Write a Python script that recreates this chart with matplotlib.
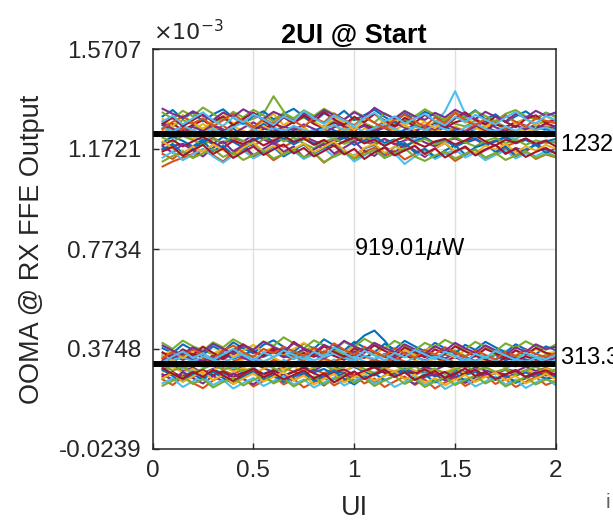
import numpy as np
import matplotlib
matplotlib.use("Agg")
import matplotlib.pyplot as plt

plt.rcParams['font.family'] = ['Liberation Sans', 'DejaVu Sans']
plt.rcParams['mathtext.fontset'] = 'dejavusans'

# sample instants (UI) of every trace
ui_pos = np.arange(1, 41) / 20.0

# mean levels (uW)
level_hi = 1232.35
level_lo = 313.34
ooma = 919.01

# per-trace deviation from the level, uW
up_dev = [
    [35, 12, 28, -5, 18, 30, 8, 22, -10, 15, 40, 20, 5, 25, -8, 12, 30, 14, -2, 20, 35, 10, 24, 0, 16, 38, 18, 6, 28, 12, -4, 22, 30, 10, 26, 4, 18, 32, 14, 20],
    [-130, -110, -95, -80, -30, -15, -38, -22, -45, -28, -10, -35, -52, -30, -18, -40, -25, -48, -32, -12, -30, -45, -20, -38, -55, -28, -15, -36, -24, -46, -30, -18, -40, -26, -50, -34, -20, -42, -28, -35],
    [5, 25, -10, 15, 40, 10, -5, 30, 12, -15, 20, 45, 15, 0, 28, -8, 18, 35, 5, -12, 22, 8, 38, 14, -6, 26, 48, 20, 2, 30, 10, -10, 24, 42, 16, -2, 30, 12, 36, 8],
    [-60, -48, -40, -52, -35, -20, -38, -15, -30, -5, -22, -40, -18, -32, -10, -28, -45, -25, -8, -30, -16, -38, -20, -42, -26, -12, -34, -50, -28, -18, -36, -22, -44, -30, -14, -32, -20, -40, -26, -34],
    [50, 30, 55, 38, 20, 45, 62, 35, 48, 60, 80, 150, 90, 44, 66, 40, 28, 52, 36, 60, 42, 26, 50, 34, 56, 38, 22, 46, 64, 40, 30, 54, 36, 48, 28, 44, 60, 38, 50, 42],
    [0, -18, 10, -8, -30, -5, 12, -15, 2, -25, -8, 15, -12, -28, 0, 18, -6, -20, 5, -14, 8, -22, -2, 20, -10, -26, 4, 40, 90, 170, 80, 6, -12, 14, -8, -20, 2, -10, 12, -6],
    [20, 40, 15, 35, 55, 28, 10, 38, 60, 30, 18, 42, 25, 48, 70, 40, 22, 45, 30, 12, 36, 20, 44, 28, 50, 32, 16, 40, 24, 46, 58, 30, 14, 38, 26, 48, 32, 20, 42, 28],
    [-35, -10, -28, -50, -22, -40, -12, -32, -55, -25, -8, -30, -18, -42, -20, -38, -60, -34, -16, -44, -26, -10, -36, -22, -48, -30, -14, -40, -24, -52, -32, -18, -44, -28, -12, -38, -24, -46, -30, -20],
    [10, -5, 22, 5, -12, 15, 32, 8, -8, 20, 2, -15, 12, 28, 6, -10, 18, 0, 25, 10, -6, 16, 30, 4, -12, 14, 26, 8, -4, 22, 12, 40, 18, 2, 24, 10, -8, 16, 28, 12],
    [-5, 18, -2, -20, 8, 24, 0, -16, 12, -8, 30, 10, -12, 6, -24, -4, 14, -10, 20, 2, -18, 10, -6, 16, 36, 12, -8, 18, 4, -14, 8, 26, 2, -10, 14, -4, 20, 6, -12, 4],
    [42, 20, 5, 28, 12, 35, 18, 0, 24, 46, 22, 8, 30, 14, 38, 20, 4, 26, 44, 18, 32, 10, 28, 48, 24, 6, 34, 16, 40, 22, 8, 30, 50, 26, 12, 34, 18, 38, 22, 30],
    [-15, -32, -8, -25, -45, -20, -35, -10, -28, -48, -22, -5, -30, -15, -38, -58, -32, -18, -40, -24, -8, -30, -46, -26, -14, -36, -20, -42, -30, -12, -34, -50, -28, -16, -38, -22, -44, -26, -36, -30],
    [25, 8, 32, 15, 0, 20, 5, 28, 44, 18, 2, 26, 10, 32, 16, -4, 22, 36, 14, 28, 6, 24, 40, 20, 4, 30, 14, 36, 18, 0, 26, 42, 20, 8, 30, 12, 34, 16, 26, 10],
    [-45, -25, -50, -30, -12, -35, -55, -28, -40, -20, -46, -26, -8, -32, -18, -44, -24, -50, -30, -14, -38, -22, -48, -28, -10, -34, -52, -30, -20, -42, -26, -6, -30, -46, -24, -36, -18, -40, -28, -50],
    [70, 95, 60, 85, 50, 78, 98, 65, 40, 72, 90, 58, 80, 100, 70, 48, 82, 62, 92, 55, 75, 96, 68, 45, 80, 60, 88, 72, 50, 85, 66, 94, 58, 78, 46, 70, 90, 62, 84, 70],
    [-80, -100, -70, -95, -60, -85, -110, -75, -55, -90, -70, -105, -80, -60, -95, -75, -115, -85, -65, -98, -72, -55, -88, -68, -102, -80, -60, -92, -74, -108, -84, -62, -96, -78, -58, -90, -70, -100, -82, -94],
    [60, 30, 75, 45, 20, 55, 85, 40, 65, 25, 50, 80, 35, 60, 90, 50, 25, 70, 45, 15, 55, 80, 40, 62, 30, 72, 48, 22, 58, 84, 44, 66, 28, 54, 76, 40, 60, 32, 70, 50],
    [-50, -75, -40, -65, -90, -55, -30, -70, -45, -85, -60, -35, -72, -50, -95, -62, -40, -78, -55, -30, -68, -88, -52, -75, -42, -66, -92, -58, -36, -74, -50, -82, -62, -44, -80, -56, -70, -40, -64, -76],
    [85, 60, 92, 70, 105, 80, 55, 88, 66, 96, 74, 50, 84, 62, 94, 72, 100, 78, 56, 90, 68, 45, 82, 60, 92, 70, 98, 76, 54, 86, 64, 90, 72, 50, 80, 95, 70, 58, 85, 66],
    [-95, -70, -105, -82, -60, -90, -115, -85, -65, -98, -76, -55, -88, -68, -100, -80, -58, -92, -72, -110, -86, -64, -96, -78, -120, -90, -70, -100, -80, -62, -94, -74, -105, -84, -66, -98, -78, -88, -70, -92],
    [40, 65, 30, 55, 78, 48, 70, 35, 60, 85, 52, 28, 66, 42, 75, 50, 88, 58, 36, 68, 46, 80, 54, 32, 64, 44, 76, 50, 30, 62, 86, 56, 38, 70, 48, 26, 60, 74, 44, 58],
    [-62, -40, -78, -55, -30, -68, -48, -85, -60, -38, -72, -50, -90, -64, -42, -76, -56, -34, -70, -88, -58, -44, -80, -52, -36, -74, -60, -92, -66, -46, -82, -54, -40, -72, -50, -86, -62, -44, -76, -58],
    [20, 48, 70, 42, 62, 30, 55, 80, 50, 25, 60, 40, 72, 52, 28, 64, 46, 82, 56, 34, 68, 44, 22, 58, 76, 50, 30, 66, 42, 84, 54, 36, 60, 40, 74, 48, 28, 62, 52, 44],
    [-30, -58, -80, -50, -72, -42, -65, -88, -55, -35, -70, -48, -82, -60, -38, -74, -52, -30, -66, -90, -56, -40, -76, -50, -68, -44, -84, -58, -36, -70, -54, -80, -46, -62, -40, -74, -50, -66, -44, -60],
    [100, 80, 65, 90, 72, 55, 85, 68, 98, 76, 60, 88, 70, 52, 82, 64, 95, 74, 58, 86, 66, 104, 80, 62, 90, 70, 56, 84, 66, 96, 76, 58, 88, 68, 50, 80, 64, 92, 72, 86],
    [-110, -88, -70, -96, -78, -60, -92, -74, -104, -84, -66, -98, -80, -62, -94, -76, -112, -90, -72, -100, -82, -64, -96, -78, -58, -90, -108, -86, -70, -98, -80, -62, -94, -76, -104, -86, -68, -96, -80, -90],
    [50, 72, 38, 62, 86, 54, 32, 66, 46, 78, 58, 36, 70, 50, 92, 62, 40, 74, 54, 30, 64, 84, 50, 70, 42, 60, 80, 52, 34, 68, 48, 76, 56, 38, 66, 88, 58, 42, 72, 54],
    [-70, -52, -88, -64, -44, -80, -58, -96, -72, -50, -84, -62, -42, -78, -56, -90, -68, -46, -82, -60, -100, -74, -54, -86, -66, -48, -80, -58, -94, -70, -52, -86, -64, -44, -78, -60, -92, -72, -56, -80],
]

dn_dev = [
    [30, 10, 35, 18, 5, 28, 45, 22, 38, 55, 30, 48, 62, 40, 25, 50, 35, 58, 42, 80, 115, 135, 95, 45, 30, 50, 36, 20, 40, 28, 12, 34, 22, 38, 16, 30, 20, 8, 26, 14],
    [-40, -60, -35, -52, -30, -45, -25, -40, -18, -35, -50, -28, -12, -30, -42, -20, -36, -15, -32, -48, -25, -10, -30, -44, -22, -38, -18, -34, -50, -28, -40, -22, -46, -30, -52, -36, -24, -42, -30, -45],
    [0, 18, -5, 12, -12, 8, 25, 5, 20, 35, 12, 28, 6, 30, 15, 40, 18, 5, 26, 10, 32, 14, 0, 22, 38, 16, 4, 24, 10, -6, 18, 2, 20, -8, 10, -4, 14, 0, -10, 6],
    [-20, -5, -28, -12, -35, -18, -5, -24, -10, 5, -15, -30, -8, 8, -12, -25, -2, -18, 4, -10, -28, -6, -20, 2, -14, -32, -10, -22, -4, -16, -30, -12, -24, -36, -18, -28, -10, -26, -14, -30],
    [45, 25, 50, 32, 55, 40, 60, 38, 70, 50, 35, 62, 45, 30, 55, 68, 42, 58, 36, 50, 64, 40, 28, 48, 60, 36, 52, 30, 44, 56, 34, 48, 26, 40, 52, 30, 42, 24, 38, 32],
    [-10, 8, -18, 0, 15, -8, 10, -15, 5, 22, 0, -12, 18, 4, 25, 8, -6, 20, 2, 30, 12, -4, 16, 28, 6, -10, 14, 0, 20, 4, -12, 8, -6, 12, -14, 2, -8, 10, -4, 0],
    [15, 35, 20, 42, 28, 10, 32, 50, 30, 15, 40, 58, 35, 22, 46, 30, 52, 34, 18, 40, 26, 48, 32, 14, 36, 22, 44, 28, 12, 30, 18, 36, 20, 6, 26, 14, 32, 18, 24, 10],
    [-55, -35, -48, -28, -42, -20, -36, -50, -30, -15, -38, -22, -45, -28, -10, -32, -18, -40, -26, -8, -30, -44, -24, -36, -16, -40, -28, -48, -32, -20, -42, -30, -50, -34, -22, -44, -32, -52, -38, -46],
    [5, -12, 10, -5, 22, 2, -15, 12, 28, 8, -6, 18, 0, 32, 14, -2, 24, 8, 36, 16, 2, 20, 6, 26, 12, -4, 16, 2, 22, 8, -10, 12, -2, 18, 4, -8, 10, -4, 14, 2],
    [-28, -10, -32, -18, -40, -22, -6, -28, -14, -34, -18, 2, -20, -8, -30, -12, 5, -16, -26, -6, -22, -38, -14, -28, -8, -24, -42, -20, -32, -14, -36, -24, -10, -30, -18, -38, -22, -34, -16, -26],
    [22, 40, 18, 30, 12, 36, 20, 44, 26, 12, 34, 50, 28, 40, 60, 36, 24, 46, 30, 52, 34, 20, 42, 28, 48, 30, 16, 38, 24, 42, 28, 14, 34, 20, 38, 24, 10, 30, 18, 26],
    [-5, -25, -10, -32, -18, 0, -22, -8, -28, -12, 6, -16, -30, -6, 10, -14, -2, -24, -10, 4, -18, -34, -12, -4, -22, -8, -28, -16, -38, -20, -6, -26, -12, -30, -18, -40, -24, -10, -28, -20],
    [38, 20, 28, 12, 32, 18, 8, 26, 42, 24, 10, 30, 46, 22, 36, 16, 30, 44, 26, 14, 34, 22, 40, 18, 6, 28, 14, 32, 20, 4, 24, 12, 30, 16, 2, 20, 10, 26, 8, 16],
    [-48, -30, -55, -38, -22, -44, -28, -50, -34, -18, -40, -24, -46, -30, -14, -36, -52, -32, -20, -42, -26, -12, -34, -48, -28, -38, -20, -44, -30, -54, -36, -22, -46, -32, -40, -26, -50, -34, -44, -38],
    [65, 45, 80, 58, 38, 72, 52, 88, 64, 44, 78, 96, 70, 50, 84, 62, 100, 76, 56, 90, 68, 48, 82, 60, 94, 72, 52, 86, 64, 44, 78, 58, 90, 68, 48, 80, 60, 40, 72, 56],
    [-60, -82, -50, -74, -95, -64, -44, -78, -56, -88, -66, -46, -80, -58, -92, -70, -50, -84, -62, -42, -76, -56, -90, -68, -48, -82, -60, -96, -72, -52, -86, -64, -44, -78, -58, -90, -70, -50, -82, -66],
    [35, 58, 25, 50, 72, 42, 64, 30, 55, 78, 48, 70, 40, 62, 86, 52, 32, 66, 46, 74, 56, 36, 68, 44, 60, 34, 54, 76, 46, 28, 58, 40, 66, 48, 30, 56, 38, 62, 44, 50],
    [-40, -62, -30, -55, -76, -46, -68, -36, -58, -80, -50, -72, -42, -64, -38, -60, -84, -54, -34, -66, -48, -70, -44, -26, -58, -78, -50, -40, -64, -46, -74, -52, -36, -62, -44, -70, -56, -38, -60, -48],
    [85, 62, 95, 72, 55, 88, 68, 100, 78, 60, 92, 74, 108, 84, 64, 96, 76, 58, 90, 70, 102, 80, 62, 94, 74, 56, 86, 68, 98, 78, 60, 90, 70, 52, 84, 66, 92, 72, 58, 80],
    [-75, -55, -90, -68, -48, -82, -62, -96, -74, -54, -86, -66, -46, -80, -60, -92, -72, -52, -84, -64, -44, -78, -58, -90, -70, -50, -82, -62, -98, -76, -56, -88, -68, -48, -80, -60, -94, -72, -54, -84],
    [48, 26, 60, 38, 70, 46, 24, 58, 80, 52, 34, 66, 44, 90, 62, 40, 72, 50, 30, 64, 46, 76, 54, 36, 68, 48, 28, 60, 42, 72, 52, 32, 62, 44, 26, 56, 38, 66, 46, 34],
    [-22, -46, -68, -40, -60, -30, -54, -76, -48, -28, -62, -42, -70, -50, -32, -66, -44, -24, -58, -80, -52, -36, -64, -46, -26, -60, -40, -72, -54, -34, -66, -48, -28, -62, -42, -74, -50, -32, -58, -44],
    [25, 50, 35, 60, 42, 22, 55, 75, 48, 30, 62, 44, 70, 52, 34, 66, 46, 84, 58, 38, 70, 50, 32, 64, 44, 26, 58, 40, 68, 48, 30, 56, 38, 20, 50, 34, 60, 42, 28, 46],
    [-55, -35, -70, -48, -28, -62, -42, -78, -56, -36, -68, -50, -30, -64, -44, -80, -58, -38, -72, -52, -34, -66, -46, -26, -60, -40, -74, -54, -84, -62, -42, -70, -50, -32, -64, -46, -76, -56, -38, -60],
    [75, 55, 40, 68, 50, 82, 62, 44, 76, 58, 90, 70, 52, 84, 64, 46, 78, 60, 94, 72, 54, 86, 66, 48, 80, 60, 42, 72, 54, 86, 64, 46, 76, 56, 38, 68, 50, 80, 62, 70],
    [-85, -65, -50, -78, -58, -92, -70, -52, -84, -62, -44, -76, -56, -88, -66, -48, -80, -60, -42, -74, -54, -86, -64, -46, -78, -58, -90, -68, -50, -82, -62, -44, -76, -56, -88, -68, -50, -80, -60, -72],
    [10, 32, 52, 26, 44, 18, 40, 62, 36, 14, 48, 30, 56, 38, 20, 50, 32, 68, 44, 24, 54, 36, 16, 46, 28, 58, 40, 22, 50, 34, 12, 42, 26, 54, 36, 18, 46, 30, 20, 38],
    [-15, -38, -58, -30, -50, -22, -44, -66, -40, -18, -52, -34, -60, -42, -24, -56, -36, -72, -48, -28, -58, -40, -20, -50, -32, -62, -44, -26, -54, -38, -16, -46, -30, -58, -40, -22, -50, -34, -24, -42],
]

ytick_vals = [-0.0239, 0.3748, 0.7734, 1.1721, 1.5707]   # x1e-3
xtick_vals = [0, 0.5, 1, 1.5, 2]

matlab_colors = ['#0072BD', '#D95319', '#EDB120', '#7E2F8E', '#77AC30', '#4DBEEE', '#A2142F']
axcol = '#262626'

fig = plt.figure(figsize=(6.13, 5.23), dpi=100)
ax = fig.add_axes([0.2488, 0.1415, 0.6582, 0.7648])

k = 0
for rows, lvl in ((up_dev, level_hi), (dn_dev, level_lo)):
    for r in rows:
        ax.plot(ui_pos, (lvl + np.array(r)) / 1000.0, color=matlab_colors[k % 7], lw=1.5)
        k += 1

ax.plot([0, 2], [level_hi / 1000.0] * 2, color='k', lw=4.3)
ax.plot([0, 2], [level_lo / 1000.0] * 2, color='k', lw=4.3)

ax.text(2.02, 1.189, '%.2f$\\mu$W' % level_hi, fontsize=17, va='center', ha='left', clip_on=False, color='k')
ax.text(2.02, 0.340, '%.2f$\\mu$W' % level_lo, fontsize=17, va='center', ha='left', clip_on=False, color='k')
ax.text(1.0, 0.7734, '%.2f$\\mu$W' % ooma, fontsize=17, va='center', ha='left', color='k')

ax.set_xlim(0, 2)
ax.set_ylim(ytick_vals[0], ytick_vals[-1])
ax.set_xticks(xtick_vals)
ax.set_xticklabels(['0', '0.5', '1', '1.5', '2'])
ax.set_yticks(ytick_vals)
ax.set_yticklabels(['%.4f' % v for v in ytick_vals])
ax.tick_params(direction='in', length=4, width=1, colors=axcol, labelsize=17.5, pad=8)
ax.grid(True, color='#dfdfdf', lw=1)
ax.set_axisbelow(True)
for s in ax.spines.values():
    s.set_color(axcol)
    s.set_linewidth(1.1)

ax.set_title('2UI @ Start', fontsize=19.5, fontweight='bold', pad=4, color='k')
ax.text(0.0, 1.01, '$\\times10^{-3}$', transform=ax.transAxes, fontsize=16, ha='left', va='bottom', color=axcol)
ax.set_xlabel('UI', fontsize=19.5, color=axcol, labelpad=9)
ax.set_ylabel('OOMA @ RX FFE Output', fontsize=19.5, color=axcol, labelpad=10)

# cut-off bit of the neighbouring panel
fig.text(606 / 613, 1 - 503 / 523, 'i', fontsize=15, color='#606060', ha='left', va='center')

fig.savefig('out.png', dpi=100)
